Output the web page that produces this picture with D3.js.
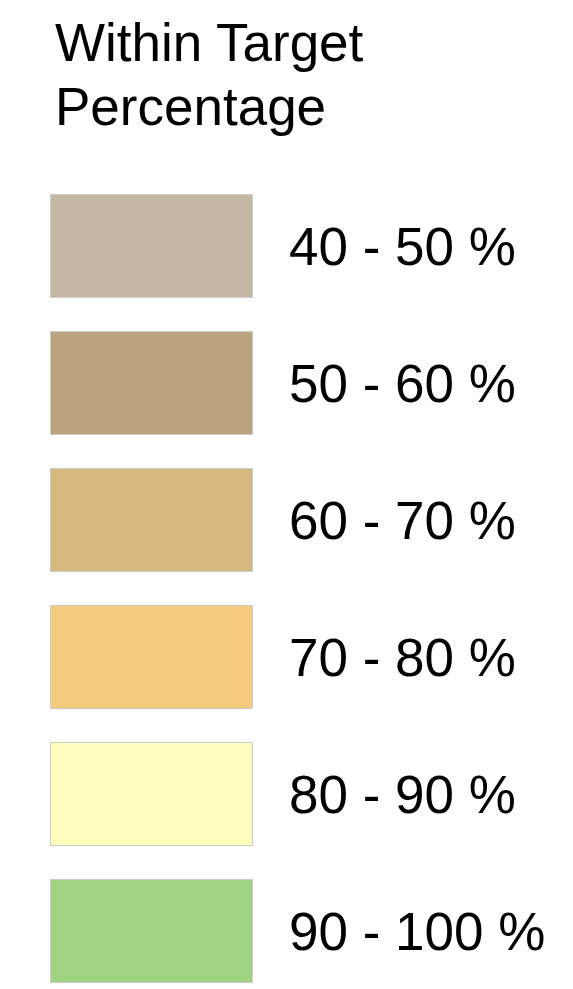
<!DOCTYPE html>
<html>
<head>
<meta charset="utf-8">
<script src="https://cdn.jsdelivr.net/npm/d3@7"></script>
<style>
  html, body { margin: 0; padding: 0; background: #ffffff; }
  svg { display: block; }
</style>
</head>
<body>
<script>
const titleLines = ["Within Target", "Percentage"];
const categories = ["40 - 50 %", "50 - 60 %", "60 - 70 %", "70 - 80 %", "80 - 90 %", "90 - 100 %"];
const colors = ["#C4B8A4", "#B9A47E", "#D5B87E", "#F3CA7E", "#FFFDBB", "#A0D37F"];

const W = 573, H = 989;
const svg = d3.select("body").append("svg").attr("width", W).attr("height", H);

const font = "'Liberation Sans', Arial, Helvetica, sans-serif";

svg.append("g").selectAll("text").data(titleLines).join("text")
  .attr("x", 55)
  .attr("y", (d, i) => 61 + i * 64)
  .attr("font-family", font)
  .attr("font-size", 53)
  .attr("fill", "#000")
  .text(d => d);

const boxH = 103, step = 137;
const y = d3.scaleBand()
  .domain(categories)
  .range([194, 194 + 5 * step + boxH])
  .paddingInner((step - boxH) / step)
  .paddingOuter(0);

const color = d3.scaleOrdinal().domain(categories).range(colors);

const items = svg.append("g").selectAll("g").data(categories).join("g")
  .attr("transform", d => `translate(0,${y(d)})`);

items.append("rect")
  .attr("x", 50.5)
  .attr("y", 0.5)
  .attr("width", 202)
  .attr("height", y.bandwidth())
  .attr("fill", d => color(d))
  .attr("stroke", "#cccccc")
  .attr("stroke-width", 1);

items.append("text")
  .attr("x", 289)
  .attr("y", y.bandwidth() / 2 + 19.5)
  .attr("font-family", font)
  .attr("font-size", 53)
  .attr("fill", "#000")
  .text(d => d);
</script>
</body>
</html>
